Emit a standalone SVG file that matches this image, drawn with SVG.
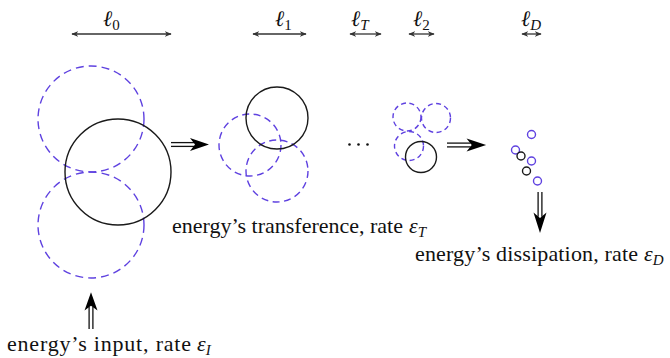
<svg xmlns="http://www.w3.org/2000/svg" xmlns:xlink="http://www.w3.org/1999/xlink" width="670" height="358" viewBox="0 0 670 358">
<style>
.dash{fill:none;stroke:#5f42e0;stroke-width:1.4;stroke-dasharray:8 5}
.blk{fill:none;stroke:#1a1a1a;stroke-width:1.4}
.dot{fill:none;stroke:#5f42e0;stroke-width:1.4}
.dotb{fill:none;stroke:#1a1a1a;stroke-width:1.4}
.txt{font-family:"Liberation Serif",serif;font-size:22px;fill:#111}
.it{font-family:"Liberation Serif",serif;font-style:italic;font-size:22px;fill:#111}
.sub{font-family:"Liberation Serif",serif;font-style:normal;font-size:15px;fill:#111}
.subi{font-family:"Liberation Serif",serif;font-style:italic;font-size:15px;fill:#111}
.dim{stroke:#333;stroke-width:1.3;fill:none;marker-start:url(#ah);marker-end:url(#ah)}
.sh{stroke:#111;stroke-width:1.3;fill:none}
</style>
<defs>
<marker id="ah" viewBox="0 0 10 10" refX="9" refY="5" markerWidth="7" markerHeight="7" markerUnits="userSpaceOnUse" orient="auto-start-reverse">
<path d="M0,1 L10,5 L0,9 L3,5 Z" fill="#333"/>
</marker>
<g id="dbl">
<line class="sh" x1="0" y1="-1.9" x2="23" y2="-1.9"/>
<line class="sh" x1="0" y1="1.9" x2="23" y2="1.9"/>
<path d="M38,0 L19,-6.5 L24,0 L19,6.5 Z" fill="#000"/>
</g>
</defs>

<g id="scales">
<line class="dim" x1="72" y1="34" x2="171" y2="34"/>
<line class="dim" x1="253" y1="34" x2="306" y2="34"/>
<line class="dim" x1="350" y1="34" x2="381" y2="34"/>
<line class="dim" x1="409" y1="34" x2="434" y2="34"/>
<line class="dim" x1="522" y1="34" x2="541" y2="34"/>
<text class="it" x="103" y="26">ℓ<tspan class="sub" dy="4">0</tspan></text>
<text class="it" x="275" y="26">ℓ<tspan class="sub" dy="4">1</tspan></text>
<text class="it" x="351" y="26">ℓ<tspan class="subi" dy="4">T</tspan></text>
<text class="it" x="413" y="26">ℓ<tspan class="sub" dy="4">2</tspan></text>
<text class="it" x="521" y="26">ℓ<tspan class="subi" dy="4">D</tspan></text>
</g>

<g id="eddy0">
<circle class="dash" cx="91" cy="119" r="53"/>
<circle class="dash" cx="91" cy="225" r="53"/>
<circle class="blk" cx="118" cy="172" r="53"/>
</g>

<g id="eddy1">
<circle class="dash" cx="250" cy="145" r="31" style="stroke-dasharray:7 4.5"/>
<circle class="dash" cx="277" cy="171" r="31" style="stroke-dasharray:7 4.5"/>
<circle class="blk" cx="277" cy="118" r="31"/>
</g>

<g id="ellipsis">
<circle cx="349.5" cy="144.5" r="1.3" fill="#111"/>
<circle cx="358.5" cy="144.5" r="1.3" fill="#111"/>
<circle cx="367.5" cy="144.5" r="1.3" fill="#111"/>
</g>

<g id="eddy2">
<circle class="dash" cx="407" cy="117" r="14" style="stroke-dasharray:5 3.5"/>
<circle class="dash" cx="436" cy="118" r="14.5" style="stroke-dasharray:5 3.5"/>
<circle class="dash" cx="409" cy="146" r="14.5" style="stroke-dasharray:5 3.5"/>
<circle class="blk" cx="421" cy="157" r="15.5"/>
</g>

<g id="eddyD">
<circle class="dot" cx="531.5" cy="134.5" r="4"/>
<circle class="dot" cx="515.5" cy="150" r="4"/>
<circle class="dot" cx="531.5" cy="161" r="4"/>
<circle class="dot" cx="537.5" cy="181" r="4"/>
<circle class="dotb" cx="521" cy="156" r="4"/>
<circle class="dotb" cx="526.5" cy="171" r="4"/>
</g>

<g id="connectors">
<use xlink:href="#dbl" transform="translate(171,144.5)"/>
<use xlink:href="#dbl" transform="translate(447,145) scale(1.03,1)"/>
<use xlink:href="#dbl" transform="translate(540,192) rotate(90) scale(1.08,1)"/>
<use xlink:href="#dbl" transform="translate(91,329) rotate(-90) scale(0.97,1)"/>
</g>

<g id="label-input">
<text class="txt" x="7" y="351" textLength="184">energy’s input, rate</text>
<text class="it" x="197" y="351">ε<tspan class="subi" dy="4">I</tspan></text>
</g>
<g id="label-transference">
<text class="txt" x="172" y="233" textLength="231">energy’s transference, rate</text>
<text class="it" x="409" y="233">ε<tspan class="subi" dy="4">T</tspan></text>
</g>
<g id="label-dissipation">
<text class="txt" x="415" y="261" textLength="223">energy’s dissipation, rate</text>
<text class="it" x="644" y="261">ε<tspan class="subi" dy="4">D</tspan></text>
</g>
</svg>
